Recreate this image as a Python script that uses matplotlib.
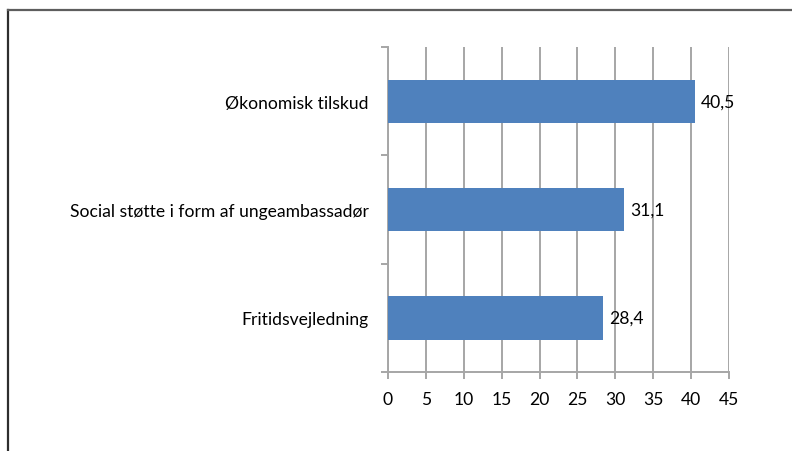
import matplotlib.pyplot as plt
import matplotlib.lines as mlines
import numpy as np

categories = ["Fritidsvejledning", "Social støtte i form af ungeambassadør", "Økonomisk tilskud"]
values = [28.4, 31.1, 40.5]
xticks = [0, 5, 10, 15, 20, 25, 30, 35, 40, 45]

plt.rcParams['font.family'] = ['Lato', 'DejaVu Sans']
fs = 12.6

fig = plt.figure(figsize=(7.92, 4.52), dpi=100)
ax = fig.add_axes([388 / 792, 1 - 373 / 452, 341 / 792, 325 / 452])

bar_color = "#4F81BD"
grid_color = "#A6A6A6"
y = np.arange(len(categories))
ax.barh(y, values, height=0.4, color=bar_color, zorder=3)

for yi, v in zip(y, values):
    ax.text(v + 0.8, yi, f"{v:.1f}".replace(".", ","), va="center", ha="left",
            fontsize=fs, color="black", zorder=4)

ax.set_xlim(0, 45)
ax.set_ylim(-0.5, len(categories) - 0.5)
ax.set_xticks(xticks)
ax.set_xticklabels([str(t) for t in xticks], fontsize=fs)
ax.set_yticks(y)
ax.set_yticklabels(categories, fontsize=fs)
ax.set_yticks(np.arange(-0.5, len(categories), 1), minor=True)

ax.xaxis.grid(True, color=grid_color, linewidth=1.4, zorder=0)
ax.set_axisbelow(True)

for s in ["top", "right"]:
    ax.spines[s].set_visible(False)
for s in ["left", "bottom"]:
    ax.spines[s].set_color(grid_color)
    ax.spines[s].set_linewidth(1.4)

ax.tick_params(axis="y", which="major", length=0, pad=14)
ax.tick_params(axis="y", which="minor", length=5, width=1.4, color=grid_color)
ax.tick_params(axis="x", which="major", length=5, width=1.4, color=grid_color, pad=9)

# outer chart border (top and left visible)
fig.add_artist(mlines.Line2D([7.5 / 792, 7.5 / 792], [0, 1 - 10.5 / 452],
                             color="#2E2E2E", linewidth=1.6, transform=fig.transFigure))
fig.add_artist(mlines.Line2D([7.5 / 792, 1], [1 - 10.5 / 452, 1 - 10.5 / 452],
                             color="#5E5E5E", linewidth=1.6, transform=fig.transFigure))

fig.savefig("out.png", dpi=100)
